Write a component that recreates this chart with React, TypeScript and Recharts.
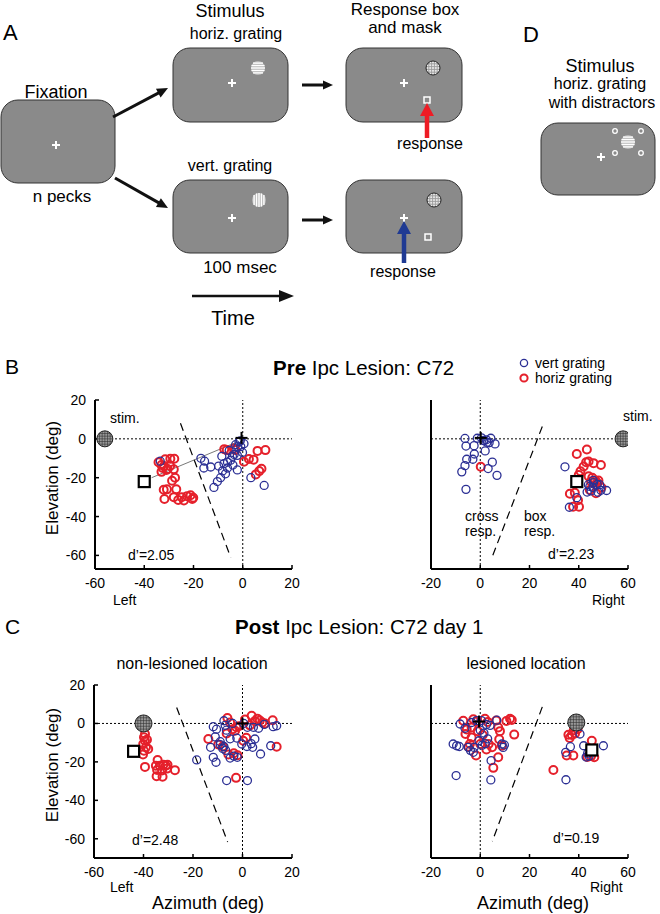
import React from 'react';
import { ScatterChart, Scatter, XAxis, YAxis, ReferenceLine } from 'recharts';

// ---------------------------------------------------------------------------
// Theme
// ---------------------------------------------------------------------------
const BLUE = '#2b2f94';
const RED = '#e5202b';
const FONT = '"Liberation Sans", Arial, Helvetica, sans-serif';
const SCREEN_FILL = '#8a8a8a';

type P = [number, number];

// ---------------------------------------------------------------------------
// Data: [azimuth, elevation] in deg
// ---------------------------------------------------------------------------
const Y_TICKS = [-60, -40, -20, 0, 20];
const LEFT_X_TICKS = [-60, -40, -20, 0, 20];
const RIGHT_X_TICKS = [-20, 0, 20, 40, 60];

// Pre lesion, left stimulus
const preLeftVert: P[] = [
  [-33.5, -11.5], [-17, -10], [-15.5, -11.5], [-15.8, -15], [-13, -14.5], [-9.8, -14],
  [-11.7, -25], [-10.3, -22], [-9, -20], [-8.2, -16.5], [-7.6, -12.8], [-6.2, -12],
  [-6.2, -15], [-4.9, -11], [-4.2, -9], [-3.5, -8], [-2.2, -8.5], [-2, -4], [-2.9, -3],
  [-1.5, -1.5], [-0.8, -4], [-0.1, -7], [-2.2, -16], [3.3, -20], [8.7, -24], [-5.5, -6],
  [-1, -1], [0.5, -2.5], [-4, -13.5], [-7, -18], [-8.5, -9],
];
const preLeftHoriz: P[] = [
  [-34.2, -12], [-33, -13.5], [-31.5, -10.5], [-29.4, -10.2], [-27.8, -10.2], [-32.5, -15],
  [-31, -16], [-33, -17], [-32, -14], [-30.5, -15.5], [-29.5, -14], [-28, -15.7], [-27.5, -20],
  [-28.7, -21.6], [-32.1, -26.2], [-30.8, -26], [-27, -26], [-28, -30], [-26.2, -31.5],
  [-24.8, -30], [-22.6, -29.5], [-21.2, -29], [-20.1, -30.3], [-20.5, -31], [-23.9, -31.7],
  [-31.8, -31], [-7.5, -5.3], [-6.5, -5.8], [-3.6, -5], [-3, -5.8], [0.5, -11.8], [2.5, -10.4],
  [4.4, -10.7], [6, -6.2], [9.2, -5.8], [5.3, -18.3], [6.7, -16.6], [7.6, -15.4],
];

// Pre lesion, right stimulus
const preRightVert: P[] = [
  [-6.2, 0.2], [-5.8, -3.7], [-2.5, -3.5], [-1.2, 0.3], [1.3, -0.8], [2.7, -1.7], [4.3, 0.3],
  [3.6, -2], [6, -2.6], [2, -6.2], [-2.4, -7.8], [-5.5, -10.5], [-3, -10.5], [-6.2, -13.8],
  [-7.5, -17], [4.9, -12], [3.2, -15.3], [6.8, -18.8], [-5.8, -26], [1.5, -1], [2.5, -0.5],
  [0.5, 0.5], [34.4, -14.4], [43.9, -23.6], [45.9, -21.4], [47.5, -23.5], [48.5, -23.6],
  [45.8, -25], [47.8, -27.5], [43.4, -27.4], [39.2, -30.3], [36.2, -35.2], [51.3, -26.6],
  [49, -26.5], [45, -26.8], [46, -22.5], [44.5, -24.5],
];
const preRightHoriz: P[] = [
  [0.2, -14.4], [39.2, -7.8], [43.3, -5.5], [44, -11.7], [42, -14.2], [46, -12.5], [49, -13.5],
  [40.7, -16.7], [40, -18.6], [44, -19.3], [46.7, -21.4], [47.5, -22.6], [36.4, -28.3],
  [38.4, -27.8], [39.7, -31.6], [37.7, -35], [40.1, -35], [44.5, -26.3], [47, -28],
  [49.2, -25], [45.5, -20], [43, -12], [45, -22], [48, -21.5],
];

// Post lesion, non-lesioned (left) location
const postLeftVert: P[] = [
  [-18.5, -19], [-11.8, -1.7], [-10.5, -3], [-12.9, -12.4], [-11, -7], [-11.8, -17.6],
  [-10.7, -20.2], [-9, -11], [-8, -13], [-7.5, -12], [-6.8, -14], [-7.5, 1.4], [-7, -1],
  [-6.5, -3.5], [-4, 0], [-2.3, -7.6], [-2.1, -17.6], [-3.5, -17], [-5, -18], [-6.4, -29.7],
  [2, -29.7], [-0.3, -10.7], [1.8, -12], [3.5, -10.5], [4.1, -12.4], [5, -8.1], [4.4, -2],
  [6.5, -2.5], [8.8, -0.5], [7.3, -15.9], [11.4, -11.6], [12.4, -1.7], [13.8, -1.2], [2, -2],
  [0.5, 0], [-9, -9.5], [-5, -8],
];
const postLeftHoriz: P[] = [
  [-39.4, -5.5], [-39.8, -7.2], [-39.4, -9], [-40.1, -10.7], [-39, -12.4], [-38.1, -13.3],
  [-39.8, -14.2], [-40.2, -16.2], [-38.6, -8.5], [-39.4, -22.6], [-34.3, -19], [-35, -22],
  [-33.4, -22], [-32, -21.5], [-31, -22], [-30.3, -21.5], [-27.3, -24.3], [-34.7, -27.5],
  [-32.3, -27.7], [-34.5, -24.2], [-32.5, -24.5], [-30.5, -23.5], [-6.1, 2.8], [-13.8, -8.1],
  [-9.8, -11], [-5.7, -16.2], [-3, -3.8], [-1.5, -1.5], [3.7, 4], [5, 1.2], [7, 1.5], [9.1, 0],
  [12.2, 1.7], [13.8, -12.1], [-2.6, -28.3], [0.3, -9], [1.5, -7.5], [-2.5, -2], [-5, 0.5],
  [-6.4, -5.2], [-4, -3], [1, 2], [6, 2.5], [-8, -12], [3, -1], [-2, -16.5], [8, 0.5],
  [-3.5, -15.5],
];

// Post lesion, lesioned (right) location
const postRightVert: P[] = [
  [-11, -10.7], [-9.6, -11.6], [-8.5, -12], [-4.9, -12.4], [-4, -14], [-2.8, -15],
  [-2.5, -12.5], [-9.8, -27.1], [4.4, -19.3], [4.3, -29.4], [-8.2, -0.3], [-6.2, -2.5],
  [-3.5, 0.5], [-1.5, 1.5], [0.5, 1.5], [2.5, -0.5], [4, -1], [0, -3.5], [1.5, -5], [3, -8],
  [-0.5, -9], [0.8, -11.3], [2, -10.5], [6.7, 1.7], [8.8, -10.7], [9.8, -11.2], [9.3, -12.5],
  [40.5, -5.5], [36.6, -12.1], [34.7, -15], [42, -11.6], [43.6, -15.5], [44.2, -17],
  [50, -11.6], [34.8, -29.3], [43, -17.5],
];
const postRightHoriz: P[] = [
  [-6.9, 1.4], [-2.8, 2.2], [-1.5, 1], [1.9, 2.4], [3, 0.8], [-5.5, -3.1], [-6, -5.5],
  [-3.5, -7.3], [-3.5, -2.1], [7.3, -2.1], [8, -4], [6.5, 1.5], [10.6, 1.3], [12.1, 2.4],
  [12.8, 1.8], [13.8, -5.8], [-4.8, -12.1], [-1.7, -16.7], [7.3, -17.6], [5.3, -23.1],
  [7.7, -8.2], [0, -10.7], [3.4, -10.7], [4.8, -12.4], [8.8, -11.6], [-4.2, -10.7], [1, -6],
  [2.5, -13.5], [-1, -4], [35.8, -5.9], [37.2, -6], [38.5, -5.2], [36.3, -7.6], [38, -3.5],
  [35.1, -16.7], [37.8, -16.7], [45.3, -9], [46.3, -17.6], [45, -17], [29.7, -24.2],
  [43.5, -17.5], [39.5, -3],
];

// stimulus, response box, fixation and decision boundary per panel
const preLeftMarks = { stim: [-56, 0] as P, box: [-40, -22] as P, cross: [-0.5, 0.5] as P };
const preRightMarks = { stim: [58, 0] as P, box: [39.2, -22] as P, cross: [0.2, 0.5] as P };
const postLeftMarks = { stim: [-40, 0] as P, box: [-44, -14.5] as P, cross: [0, 0] as P };
const postRightMarks = { stim: [39, 0.5] as P, box: [45.3, -13.8] as P, cross: [-0.5, 1] as P };

const preLeftBoundary: [P, P] = [[-25.3, 8], [-4.9, -61]];
const preRightBoundary: [P, P] = [[25.2, 6.4], [4.9, -60.6]];
const postLeftBoundary: [P, P] = [[-26.6, 8.3], [-6, -61.7]];
const postRightBoundary: [P, P] = [[25.2, 8.6], [4.9, -61.3]];
const preLeftLink: [P, P] = [[-37, -20], [-3, -2]];

const toPts = (a: P[]) => a.map(([x, y]) => ({ x, y }));

// ---------------------------------------------------------------------------
// Marker shapes
// ---------------------------------------------------------------------------
const vertDot = (p: any) => (
  <circle cx={p.cx} cy={p.cy} r={4} fill="none" stroke={BLUE} strokeWidth={1.3} />
);
const horizDot = (p: any) => (
  <circle cx={p.cx} cy={p.cy} r={4} fill="none" stroke={RED} strokeWidth={2} />
);

function hatchedDisc(cx: number, cy: number, r: number, fill: string, line: string, lw: number, n = 5) {
  const offs = Array.from({ length: n }, (_, i) => (i - (n - 1) / 2) * ((2 * r) / (n + 1)));
  return (
    <g>
      <circle cx={cx} cy={cy} r={r} fill={fill} />
      {offs.map((d, i) => {
        const half = Math.sqrt(r * r - d * d);
        return (
          <g key={i} stroke={line} strokeWidth={lw}>
            <line x1={cx - half} y1={cy + d} x2={cx + half} y2={cy + d} />
            <line x1={cx + d} y1={cy - half} x2={cx + d} y2={cy + half} />
          </g>
        );
      })}
      <circle cx={cx} cy={cy} r={r} fill="none" stroke="#222" strokeWidth={1} />
    </g>
  );
}

const stimShape = (r: number) => (p: any) => hatchedDisc(p.cx, p.cy, r, '#9a9a9a', '#333', 0.6, 5);

const boxShape = (p: any) => (
  <rect x={p.cx - 5.5} y={p.cy - 5.5} width={11} height={11} fill="#fff" stroke="#000" strokeWidth={2.2} />
);

const crossShape = (p: any) => (
  <g stroke="#000" strokeWidth={2}>
    <line x1={p.cx - 6} y1={p.cy} x2={p.cx + 6} y2={p.cy} />
    <line x1={p.cx} y1={p.cy - 6} x2={p.cx} y2={p.cy + 6} />
  </g>
);

// ---------------------------------------------------------------------------
// One scatter panel
// ---------------------------------------------------------------------------
interface PanelProps {
  left: number;
  top: number;
  w: number;
  h: number;
  xDomain: [number, number];
  yDomain: [number, number];
  xTicks: number[];
  yLabels: boolean;
  vert: P[];
  horiz: P[];
  marks: { stim: P; box: P; cross: P };
  boundary: [P, P];
  link?: [P, P];
  stimR: number;
}

const tickStyle = { fill: '#000', fontSize: 14, fontFamily: FONT };

function Panel(p: PanelProps) {
  const seg = (s: [P, P]) => s.map(([x, y]) => ({ x, y }));
  return (
    <div style={{ position: 'absolute', left: p.left - 50, top: p.top - 10 }}>
      <ScatterChart
        width={p.w + 60}
        height={p.h + 40}
        margin={{ top: 10, right: 10, bottom: 0, left: 10 }}
      >
        <XAxis
          type="number"
          dataKey="x"
          domain={p.xDomain}
          ticks={p.xTicks}
          allowDataOverflow
          height={30}
          axisLine={{ stroke: '#000', strokeWidth: 2 }}
          tickLine={{ stroke: '#000', strokeWidth: 1.5 }}
          tickSize={-4}
          tickMargin={13}
          tick={tickStyle}
        />
        <YAxis
          type="number"
          dataKey="y"
          domain={p.yDomain}
          ticks={Y_TICKS}
          allowDataOverflow
          width={40}
          axisLine={{ stroke: '#000', strokeWidth: 2 }}
          tickLine={{ stroke: '#000', strokeWidth: 1.5 }}
          tickSize={-4}
          tickMargin={13}
          tick={p.yLabels ? tickStyle : false}
        />
        <ReferenceLine y={0} stroke="#000" strokeWidth={1} strokeDasharray="2 2" />
        <ReferenceLine x={0} stroke="#000" strokeWidth={1} strokeDasharray="2 2" />
        <ReferenceLine
          segment={seg(p.boundary)}
          stroke="#000"
          strokeWidth={1.2}
          strokeDasharray="8 5"
          ifOverflow="visible"
        />
        {p.link && (
          <ReferenceLine segment={seg(p.link)} stroke="#555" strokeWidth={0.8} ifOverflow="visible" />
        )}
        <Scatter data={toPts(p.horiz)} shape={horizDot} isAnimationActive={false} />
        <Scatter data={toPts(p.vert)} shape={vertDot} isAnimationActive={false} />
        <Scatter data={toPts([p.marks.stim])} shape={stimShape(p.stimR)} isAnimationActive={false} />
        <Scatter data={toPts([p.marks.box])} shape={boxShape} isAnimationActive={false} />
        <Scatter data={toPts([p.marks.cross])} shape={crossShape} isAnimationActive={false} />
      </ScatterChart>
    </div>
  );
}

// ---------------------------------------------------------------------------
// Schematic helpers (panel A and D)
// ---------------------------------------------------------------------------
function Screen({ x, y, w, h }: { x: number; y: number; w: number; h: number }) {
  return <rect x={x} y={y} width={w} height={h} rx={17} ry={17} fill={SCREEN_FILL} stroke="#333" strokeWidth={1} />;
}

function Plus({ x, y, s = 4, color = '#fff', w = 2 }: { x: number; y: number; s?: number; color?: string; w?: number }) {
  return (
    <g stroke={color} strokeWidth={w}>
      <line x1={x - s} y1={y} x2={x + s} y2={y} />
      <line x1={x} y1={y - s} x2={x} y2={y + s} />
    </g>
  );
}

function Grating({ x, y, r, vertical }: { x: number; y: number; r: number; vertical?: boolean }) {
  const offs = [-0.7, -0.35, 0, 0.35, 0.7].map((f) => f * r);
  return (
    <g>
      <circle cx={x} cy={y} r={r} fill="#b8b8b8" />
      {offs.map((d, i) => {
        const half = Math.sqrt(r * r - d * d);
        return vertical ? (
          <line key={i} x1={x + d} y1={y - half} x2={x + d} y2={y + half} stroke="#fff" strokeWidth={1.4} />
        ) : (
          <line key={i} x1={x - half} y1={y + d} x2={x + half} y2={y + d} stroke="#fff" strokeWidth={1.4} />
        );
      })}
    </g>
  );
}

function Mask({ x, y, r }: { x: number; y: number; r: number }) {
  return hatchedDisc(x, y, r, '#e8e8e8', '#9a9a9a', 0.9, 4);
}

function Arrow({
  x1, y1, x2, y2, color = '#111', w = 3, head = 10, hw = 5,
}: { x1: number; y1: number; x2: number; y2: number; color?: string; w?: number; head?: number; hw?: number }) {
  const dx = x2 - x1;
  const dy = y2 - y1;
  const L = Math.hypot(dx, dy);
  const ux = dx / L;
  const uy = dy / L;
  const bx = x2 - ux * head;
  const by = y2 - uy * head;
  const px = -uy;
  const py = ux;
  return (
    <g>
      <line x1={x1} y1={y1} x2={bx + ux} y2={by + uy} stroke={color} strokeWidth={w} />
      <polygon
        points={`${x2},${y2} ${bx + px * hw},${by + py * hw} ${bx - px * hw},${by - py * hw}`}
        fill={color}
      />
    </g>
  );
}

function SmallSquare({ x, y }: { x: number; y: number }) {
  return <rect x={x - 3} y={y - 3} width={6} height={6} fill="none" stroke="#fff" strokeWidth={1.5} />;
}

// ---------------------------------------------------------------------------
// App
// ---------------------------------------------------------------------------
export default function App() {
  return (
    <div
      style={{
        position: 'absolute',
        left: 0,
        top: 0,
        width: 660,
        height: 914,
        background: '#fff',
        fontFamily: FONT,
        overflow: 'hidden',
      }}
    >
      <Panel
        left={95} top={400} w={197} h={169}
        xDomain={[-60, 20]} yDomain={[-67, 20]} xTicks={LEFT_X_TICKS} yLabels
        vert={preLeftVert} horiz={preLeftHoriz} marks={preLeftMarks}
        boundary={preLeftBoundary} link={preLeftLink} stimR={8}
      />
      <Panel
        left={431} top={400} w={197} h={169}
        xDomain={[-20, 60]} yDomain={[-67, 20]} xTicks={RIGHT_X_TICKS} yLabels={false}
        vert={preRightVert} horiz={preRightHoriz} marks={preRightMarks}
        boundary={preRightBoundary} stimR={8}
      />
      <Panel
        left={94} top={685} w={198} h={173}
        xDomain={[-60, 20]} yDomain={[-70, 20]} xTicks={LEFT_X_TICKS} yLabels
        vert={postLeftVert} horiz={postLeftHoriz} marks={postLeftMarks}
        boundary={postLeftBoundary} stimR={8.5}
      />
      <Panel
        left={431} top={685} w={197} h={173}
        xDomain={[-20, 60]} yDomain={[-70, 20]} xTicks={RIGHT_X_TICKS} yLabels={false}
        vert={postRightVert} horiz={postRightHoriz} marks={postRightMarks}
        boundary={postRightBoundary} stimR={8.5}
      />

      <svg
        width={660}
        height={914}
        style={{ position: 'absolute', left: 0, top: 0, pointerEvents: 'none' }}
        fontFamily={FONT}
        fill="#000"
      >
        {/* Panel A */}
        <text x={3} y={40} fontSize={22}>A</text>
        <text x={230} y={17} fontSize={18} textAnchor="middle">Stimulus</text>
        <text x={236} y={39} fontSize={16} textAnchor="middle">horiz. grating</text>
        <text x={56} y={98} fontSize={18} textAnchor="middle">Fixation</text>
        <text x={62} y={202} fontSize={17} textAnchor="middle">n pecks</text>
        <text x={230} y={171} fontSize={16} textAnchor="middle">vert. grating</text>
        <text x={240} y={273} fontSize={17} textAnchor="middle">100 msec</text>
        <text x={233} y={325} fontSize={20} textAnchor="middle">Time</text>
        <text x={405} y={15} fontSize={17} textAnchor="middle">Response box</text>
        <text x={405} y={33} fontSize={17} textAnchor="middle">and mask</text>
        <text x={430} y={149} fontSize={16} textAnchor="middle">response</text>
        <text x={403} y={277} fontSize={16} textAnchor="middle">response</text>

        <Screen x={1} y={100} w={114} h={83} />
        <Plus x={56} y={145} />
        <Screen x={173} y={48} w={115} h={74} />
        <Plus x={232} y={83} />
        <Grating x={258} y={68} r={7} />
        <Screen x={173} y={180} w={115} h={73} />
        <Plus x={232} y={218} />
        <Grating x={259} y={200} r={7} vertical />
        <Screen x={346} y={48} w={116} h={74} />
        <Plus x={404} y={83} />
        <Mask x={433} y={68} r={7} />
        <SmallSquare x={427} y={100} />
        <Screen x={346} y={180} w={116} h={73} />
        <Plus x={404} y={218} />
        <Mask x={434} y={200} r={7} />
        <SmallSquare x={428} y={237} />

        <Arrow x1={113} y1={117} x2={168} y2={88} w={3} head={11} hw={5} />
        <Arrow x1={115} y1={178} x2={168} y2={208} w={3} head={11} hw={5} />
        <Arrow x1={302} y1={85} x2={333} y2={85} w={3} head={10} hw={4.5} />
        <Arrow x1={302} y1={220} x2={333} y2={220} w={3} head={10} hw={4.5} />
        <Arrow x1={192} y1={296} x2={294} y2={296} w={2.5} head={15} hw={6} />
        <Arrow x1={427} y1={138} x2={427} y2={103} color="#ee1c25" w={4.5} head={13} hw={7} />
        <Arrow x1={404} y1={263} x2={404} y2={221} color="#1f3a93" w={4.5} head={13} hw={7} />

        {/* Panel D */}
        <text x={523} y={42} fontSize={22}>D</text>
        <text x={600} y={72} fontSize={18} textAnchor="middle">Stimulus</text>
        <text x={600} y={89} fontSize={16} textAnchor="middle">horiz. grating</text>
        <text x={602} y={108} fontSize={16} textAnchor="middle">with distractors</text>
        <Screen x={541} y={123} w={114} h={72} />
        <Plus x={601} y={157} />
        <Grating x={628} y={142} r={7} />
        {[[615, 131], [641, 131], [615, 153], [641, 153]].map(([cx, cy], i) => (
          <circle key={i} cx={cx} cy={cy} r={2.3} fill="none" stroke="#fff" strokeWidth={1.3} />
        ))}

        {/* Panel B */}
        <text x={5} y={374} fontSize={21}>B</text>
        <text x={273} y={375} fontSize={20.5}>
          <tspan fontWeight="bold">Pre</tspan> Ipc Lesion: C72
        </text>
        <circle cx={524} cy={363} r={3.6} fill="none" stroke={BLUE} strokeWidth={1.3} />
        <text x={535} y={368} fontSize={14}>vert grating</text>
        <circle cx={524} cy={378} r={3.6} fill="none" stroke={RED} strokeWidth={2} />
        <text x={535} y={383} fontSize={14}>horiz grating</text>
        <text transform="translate(58,478) rotate(-90)" fontSize={17} textAnchor="middle">Elevation (deg)</text>
        <text x={110} y={423} fontSize={14}>stim.</text>
        <text x={128} y={560} fontSize={14}>d’=2.05</text>
        <text x={113} y={605} fontSize={14}>Left</text>
        <text x={623} y={421} fontSize={14}>stim.</text>
        <text x={465} y={521} fontSize={14}>cross</text>
        <text x={465} y={536} fontSize={14}>resp.</text>
        <text x={524} y={521} fontSize={14}>box</text>
        <text x={524} y={536} fontSize={14}>resp.</text>
        <text x={548} y={559} fontSize={14}>d’=2.23</text>
        <text x={592} y={605} fontSize={14}>Right</text>

        {/* Panel C */}
        <text x={5} y={634} fontSize={21}>C</text>
        <text x={235} y={634} fontSize={20.5}>
          <tspan fontWeight="bold">Post</tspan> Ipc Lesion: C72 day 1
        </text>
        <text x={192} y={669} fontSize={16} textAnchor="middle">non-lesioned location</text>
        <text x={526} y={669} fontSize={16} textAnchor="middle">lesioned location</text>
        <text transform="translate(58,765) rotate(-90)" fontSize={17} textAnchor="middle">Elevation (deg)</text>
        <text x={132} y={845} fontSize={14}>d’=2.48</text>
        <text x={553} y={843} fontSize={14}>d’=0.19</text>
        <text x={110} y={892} fontSize={14}>Left</text>
        <text x={590} y={892} fontSize={14}>Right</text>
        <text x={208} y={909} fontSize={18} textAnchor="middle">Azimuth (deg)</text>
        <text x={533} y={909} fontSize={18} textAnchor="middle">Azimuth (deg)</text>
      </svg>
    </div>
  );
}
